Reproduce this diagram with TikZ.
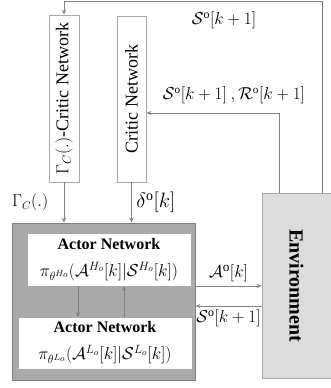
\documentclass[tikz,border=0pt]{standalone}
\usepackage{amsmath}
\usepackage{amssymb}
\usepackage{xcolor}
\usepackage{fontspec}
\setmainfont{Liberation Serif}
\usetikzlibrary{arrows.meta}
\definecolor{wirecol}{RGB}{125,128,134}
\definecolor{edgecol}{RGB}{165,168,172}
\definecolor{actorgray}{RGB}{170,170,170}
\definecolor{envgray}{RGB}{220,220,220}

\begin{document}
\begin{tikzpicture}[x=1pt,y=-1pt,>={Stealth[length=5pt,width=4pt]},
  critic/.style={draw=edgecol,fill=white,line width=0.8pt,rotate=90,inner sep=0pt,font=\fontsize{18}{20}\selectfont},
  actorbox/.style={draw=edgecol,fill=white,line width=0.8pt,inner sep=0pt,align=center,font=\fontsize{16}{27}\selectfont},
  wire/.style={draw=wirecol,line width=1pt},
  lbl/.style={font=\fontsize{#1}{#1}\selectfont},lbl/.default=15]
\useasboundingbox (0,0) rectangle (331,388);

% critic networks
\node (gcritic) at (64,98.5) [critic,minimum width=167pt,minimum height=30pt] {$\Gamma_C(.)$-Critic Network};
\node (critic) at (131.5,99) [critic,minimum width=166pt,minimum height=29pt] {Critic Network};

% actor
\node (actor) at (103.5,301.5) [draw=gray,fill=actorgray,line width=0.8pt,minimum width=183pt,minimum height=157pt] {};
\node (actorH) at (109,259.5) [actorbox,minimum width=164pt,minimum height=53pt] {\textbf{Actor Network}\\\fontsize{18}{20}\selectfont$\pi_{\theta^{H_o}}(\mathcal{A}^{H_o}[k]|\mathcal{S}^{H_o}[k])$};
\node (actorL) at (105,343) [actorbox,minimum width=174pt,minimum height=52pt] {\textbf{Actor Network}\\\fontsize{18}{20}\selectfont$\pi_{\theta^{L_o}}(\mathcal{A}^{L_o}[k]|\mathcal{S}^{L_o}[k])$};

% environment
\node (env) at (296.5,285.5) [draw=edgecol,fill=envgray,line width=0.8pt,rotate=-90,minimum width=185pt,minimum height=69pt,font=\fontsize{20}{22}\selectfont\bfseries] {Environment};

\coordinate (top) at (322,1);
\coordinate (mid) at (279,113);

\draw [wire,->] (env.west -| top) -- (top) -| (gcritic.east);
\draw [wire,->] (env.west -| mid) -- (mid) -- (mid -| critic.south);
\draw [wire,->] (gcritic.west) -- (gcritic.west |- actor.north) node[midway,left,lbl=16,xshift=-12pt] {$\Gamma_C(.)$};
\draw [wire,->] (critic.west) -- (critic.west |- actor.north) node[midway,right,lbl=20,xshift=1pt] {$\delta^{\mathrm{o}}[k]$};
\draw [wire,->] (78,286) -- (78,317);
\draw [wire,->] (124,317) -- (124,286);
\draw [wire,->] (actor.east |- 0,286) -- (env.south |- 0,286) node[midway,above,lbl=19] {$\mathcal{A}^{\mathrm{o}}[k]$};
\draw [wire,->] (env.south |- 0,306) -- (actor.east |- 0,306) node[midway,below,lbl=17] {$\mathcal{S}^{\mathrm{o}}[k+1]$};

\node (lbltop) at (224,20) [lbl=17] {$\mathcal{S}^{\mathrm{o}}[k+1]$};
\node (lblmid) at (234,95) [lbl=16] {$\mathcal{S}^{\mathrm{o}}[k+1]\:,\mathcal{R}^{\mathrm{o}}[k+1]$};
\end{tikzpicture}
\end{document}
